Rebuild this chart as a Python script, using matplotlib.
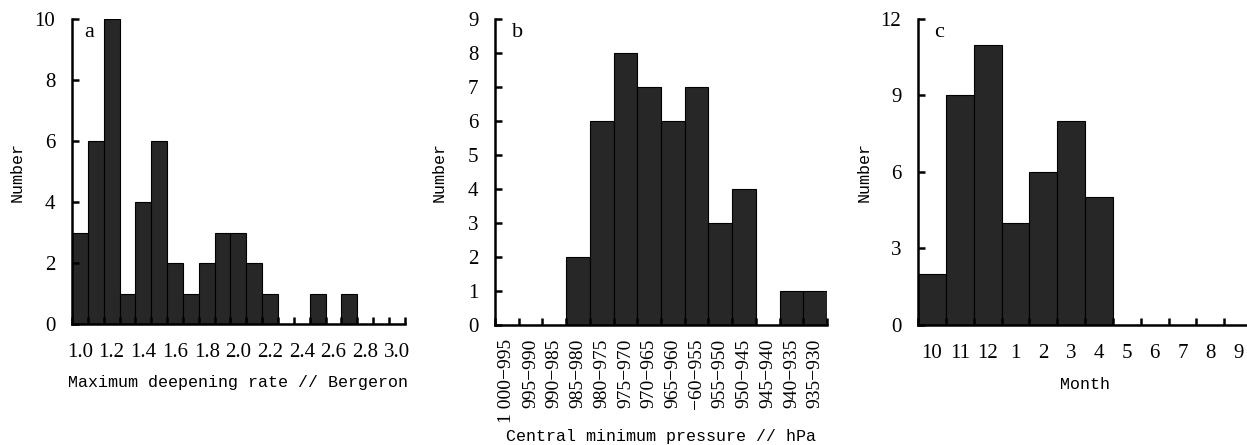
import numpy as np
import matplotlib.pyplot as plt
from matplotlib.ticker import FixedLocator, NullFormatter

# a: maximum deepening rate (Bergeron), bins of 0.1
rate_bins = [1.0, 1.1, 1.2, 1.3, 1.4, 1.5, 1.6, 1.7, 1.8, 1.9, 2.0,
             2.1, 2.2, 2.3, 2.4, 2.5, 2.6, 2.7, 2.8, 2.9, 3.0]
rate_counts = [3, 6, 10, 1, 4, 6, 2, 1, 2, 3, 3, 2, 1, 0, 0, 1, 0, 1, 0, 0, 0]
rate_labels = ['1.0', '1.2', '1.4', '1.6', '1.8', '2.0', '2.2', '2.4', '2.6', '2.8', '3.0']

# b: central minimum pressure classes
pres_labels = ['1 000\u2212995', '995\u2212990', '990\u2212985', '985\u2212980', '980\u2212975',
               '975\u2212970', '970\u2212965', '965\u2212960', '\u221260\u2212955', '955\u2212950',
               '950\u2212945', '945\u2212940', '940\u2212935', '935\u2212930']
pres_counts = [0, 0, 0, 2, 6, 8, 7, 6, 7, 3, 4, 0, 1, 1]

# c: month of occurrence
months = ['10', '11', '12', '1', '2', '3', '4', '5', '6', '7', '8', '9']
month_counts = [2, 9, 11, 4, 6, 8, 5, 0, 0, 0, 0, 0]

tick_font = 'Liberation Serif'
label_font = 'Liberation Mono'
bar_color = '#272727'

fig = plt.figure(figsize=(12.47, 4.45), dpi=100)
ax_a = fig.add_axes([0.0577, 0.2719, 0.2670, 0.6854])
ax_b = fig.add_axes([0.3970, 0.2697, 0.2662, 0.6876])
ax_c = fig.add_axes([0.7362, 0.2697, 0.2678, 0.6876])


def style(ax, ymax, ystep, xlabel, xlab_y, ylab_x, letter, letter_x):
    for s in ['top', 'right']:
        ax.spines[s].set_visible(False)
    for s in ['left', 'bottom']:
        ax.spines[s].set_linewidth(1.8)
    ax.set_ylim(0, ymax)
    ax.set_yticks(np.arange(0, ymax + 1, ystep))
    ax.tick_params(axis='y', direction='in', length=5, width=1.8, pad=12, labelsize=15)
    ax.tick_params(axis='x', which='major', direction='in', length=5, width=1.8)
    for lab in ax.get_yticklabels():
        lab.set_fontfamily(tick_font)
    ax.set_ylabel('Number', fontfamily=label_font, fontsize=12)
    ax.yaxis.set_label_coords(ylab_x, 0.5)
    ax.set_xlabel(xlabel, fontfamily=label_font, fontsize=12, va='center')
    ax.xaxis.set_label_coords(0.5, xlab_y)
    ax.text(letter_x, 0.957, letter, transform=ax.transAxes, fontfamily=tick_font,
            fontsize=16, ha='center', va='center')


def bin_ticks(ax, edges, centers, labels, pad, **kw):
    ax.xaxis.set_major_locator(FixedLocator(list(edges)))
    ax.xaxis.set_major_formatter(NullFormatter())
    ax.set_xticks(centers, minor=True)
    ax.set_xticklabels(labels, minor=True, fontfamily=tick_font, **kw)
    ax.tick_params(axis='x', which='minor', length=0, pad=pad)


# panel a
ax_a.bar(rate_bins, rate_counts, width=0.1, color=bar_color, edgecolor='black', linewidth=0.8)
ax_a.set_xlim(0.95, 3.05)
style(ax_a, 10, 2, 'Maximum deepening rate // Bergeron', -0.193, -0.141, 'a', 0.051)
edges_a = list(np.array(rate_bins) - 0.05) + [3.05]
bin_ticks(ax_a, edges_a, rate_bins[::2], rate_labels, 14, fontsize=15)

# panel b
xb = np.arange(len(pres_counts))
ax_b.bar(xb, pres_counts, width=1.0, color=bar_color, edgecolor='black', linewidth=0.8)
ax_b.set_xlim(-0.5, len(pres_counts) - 0.5)
style(ax_b, 9, 1, 'Central minimum pressure // hPa', -0.366, -0.145, 'b', 0.069)
bin_ticks(ax_b, np.arange(len(pres_counts) + 1) - 0.5, xb, pres_labels, 10,
          fontsize=14, rotation=90)

# panel c
xc = np.arange(len(month_counts))
ax_c.bar(xc, month_counts, width=1.0, color=bar_color, edgecolor='black', linewidth=0.8)
ax_c.set_xlim(-0.5, len(month_counts) - 0.5)
style(ax_c, 12, 3, 'Month', -0.196, -0.138, 'c', 0.063)
bin_ticks(ax_c, np.arange(len(month_counts) + 1) - 0.5, xc, months, 14, fontsize=15)

fig.savefig('out.png', dpi=100)
